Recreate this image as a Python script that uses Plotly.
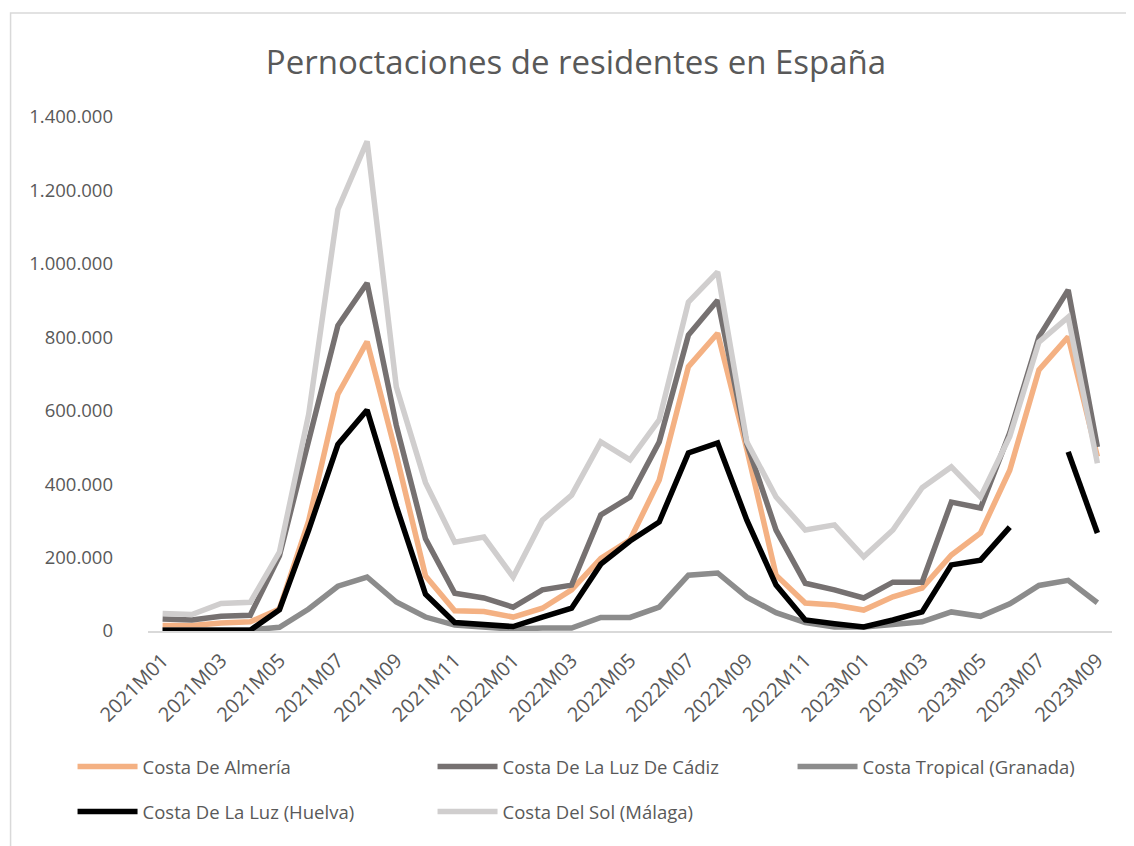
import plotly.graph_objects as go

months = [f"{y}M{m:02d}" for y in (2021, 2022, 2023) for m in range(1, 13)][:33]

almeria = [15000, 15000, 22000, 25000, 60000, 300000, 645000, 788000, 480000, 150000,
           55000, 53000, 38000, 62000, 112000, 198000, 248000, 411000, 720000, 811000,
           495000, 152000, 76000, 71000, 57000, 93000, 117000, 207000, 267000, 438000,
           711000, 801000, 475000]
cadiz = [33000, 30000, 40000, 43000, 205000, 520000, 832000, 948000, 560000, 251000,
         103000, 90000, 65000, 112000, 125000, 316000, 365000, 515000, 806000, 901000,
         510000, 275000, 130000, 112000, 90000, 133000, 133000, 351000, 335000, 540000,
         801000, 929000, 501000]
granada = [3000, 3000, 3000, 3000, 10000, 60000, 122000, 147000, 79000, 38000,
           16000, 10000, 5000, 8000, 8000, 37000, 37000, 65000, 152000, 158000,
           92000, 50000, 23000, 11000, 11000, 18000, 25000, 52000, 40000, 74000,
           124000, 138000, 77000]
huelva = [2000, 2000, 2000, 2000, 58000, 275000, 508000, 602000, 340000, 100000,
          23000, 16000, 12000, 38000, 62000, 182000, 245000, 297000, 485000, 512000,
          302000, 125000, 30000, 20000, 11000, 30000, 52000, 180000, 193000, 283000,
          None, 488000, 267000]
sol = [48000, 45000, 75000, 78000, 215000, 590000, 1148000, 1334000, 665000, 404000,
       242000, 256000, 147000, 302000, 370000, 515000, 466000, 575000, 896000, 978000,
       515000, 365000, 275000, 289000, 202000, 275000, 390000, 447000, 365000, 530000,
       787000, 855000, 457000]

y_tickvals = [0, 200000, 400000, 600000, 800000, 1000000, 1200000, 1400000]
y_ticktext = ["0", "200.000", "400.000", "600.000", "800.000", "1.000.000", "1.200.000", "1.400.000"]
x_tickvals = months[::2]

series = [
    ("Costa De Almería", almeria, "#F4B183", "legend"),
    ("Costa De La Luz De Cádiz", cadiz, "#767171", "legend"),
    ("Costa Tropical (Granada)", granada, "#8C8C8C", "legend"),
    ("Costa De La Luz (Huelva)", huelva, "#000000", "legend2"),
    ("Costa Del Sol (Málaga)", sol, "#D0CECE", "legend2"),
]

# page has an 8px body margin; work in reference-pixel coordinates minus OFF
OFF = 8
W, H = 1134 - OFF, 846 - OFF
ML = 147.5 - OFF
MT = 117 - OFF
MR = W - (1112 - OFF)
MB = H - (631 - OFF)
PW = W - ML - MR
PH = H - MT - MB

fig = go.Figure()
for name, vals, color, lg in series:
    fig.add_trace(go.Scatter(
        x=months, y=vals, name=name, mode="lines",
        line=dict(color=color, width=5.5, shape="linear"),
        connectgaps=False, legend=lg,
    ))

txt = "#595959"
font_family = "Open Sans"


def px_x(p):
    return (p - OFF - ML) / PW


def px_y(p):
    return (H - MB - (p - OFF)) / PH


legend_common = dict(
    orientation="h", xanchor="left", yanchor="middle",
    font=dict(family=font_family, size=18.5, color=txt),
    entrywidth=285, entrywidthmode="pixels", itemwidth=60,
    bgcolor="rgba(0,0,0,0)",
)

fig.update_layout(
    width=W, height=H,
    margin=dict(l=ML, r=MR, t=MT, b=MB, autoexpand=False),
    paper_bgcolor="white", plot_bgcolor="white",
    title=dict(text="Pernoctaciones de residentes en España",
               x=(576 - OFF) / W, xanchor="center",
               y=1 - (62 - OFF) / H, yanchor="middle",
               font=dict(family=font_family, size=33, color=txt)),
    xaxis=dict(
        type="category", range=[-0.5, 32.5], tickmode="array", tickvals=x_tickvals,
        tickangle=-45, showgrid=False, zeroline=False, showline=True,
        linecolor="#D9D9D9", linewidth=1.5, ticks="",
        tickfont=dict(family=font_family, size=20, color=txt), ticklabelstandoff=8,
    ),
    yaxis=dict(
        range=[0, 1400000], tickmode="array", tickvals=y_tickvals, ticktext=y_ticktext,
        showgrid=False, zeroline=False, showline=False, ticks="",
        tickfont=dict(family=font_family, size=18.5, color=txt), ticklabelstandoff=34,
    ),
    legend=dict(x=px_x(72), y=px_y(767), **legend_common),
    legend2=dict(x=px_x(72), y=px_y(812), **legend_common),
    showlegend=True,
    shapes=[dict(type="rect", xref="paper", yref="paper",
                 x0=px_x(10), x1=px_x(1150), y0=px_y(860), y1=px_y(13),
                 line=dict(color="#D9D9D9", width=1.5), layer="below")],
)

fig.write_html("out.html")
